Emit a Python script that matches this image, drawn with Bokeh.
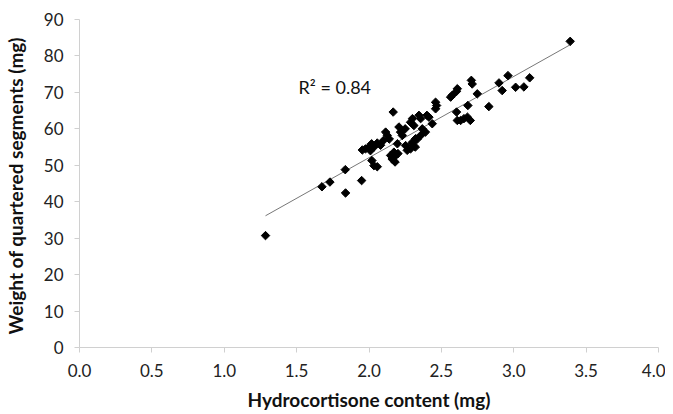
import numpy as np
from bokeh.plotting import figure
from bokeh.models import Range1d, SingleIntervalTicker, Label, PrintfTickFormatter
from bokeh.embed import file_html
from bokeh.resources import INLINE

hydrocortisone_mg = [
    1.285, 1.675, 1.730, 1.836, 1.838, 1.949, 1.954, 1.976, 1.999, 2.018,
    2.034, 2.057, 2.020, 2.034, 2.057, 2.010, 2.115, 2.126, 2.140, 2.100,
    2.149, 2.172, 2.160, 2.180, 2.167, 2.207, 2.218, 2.230, 2.253, 2.287,
    2.300, 2.310, 2.287, 2.300, 2.264, 2.345, 2.357, 2.322, 2.357, 2.390,
    2.400, 2.414, 2.437, 2.460, 2.467, 2.460, 2.320, 2.300, 2.196, 2.564,
    2.575, 2.610, 2.605, 2.605, 2.610, 2.633, 2.656, 2.680, 2.700, 2.683,
    2.707, 2.713, 2.748, 2.828, 2.898, 2.920, 2.960, 3.013, 3.070, 3.110,
    3.390, 2.368, 2.334, 2.180, 2.200, 2.080, 2.250,
]
segment_weight_mg = [
    30.7, 44.1, 45.4, 48.8, 42.4, 45.8, 54.2, 54.5, 55.0, 55.9,
    55.0, 56.1, 51.3, 49.9, 49.6, 54.0, 59.1, 58.2, 57.2, 56.8,
    52.7, 53.6, 51.7, 50.9, 64.6, 60.5, 59.1, 58.2, 55.4, 61.8,
    62.8, 60.9, 54.5, 56.3, 54.1, 63.7, 62.8, 57.3, 58.2, 59.1,
    63.7, 63.2, 61.4, 67.3, 66.4, 65.5, 55.0, 55.9, 55.9, 68.7,
    69.2, 71.0, 70.3, 64.6, 62.3, 62.3, 62.8, 63.2, 62.3, 66.4,
    73.3, 72.3, 69.6, 66.1, 72.6, 70.5, 74.6, 71.4, 71.5, 74.0,
    84.0, 60.0, 57.2, 52.5, 53.2, 55.5, 60.0,
]
r_squared_text = "R\u00b2 = 0.84"

x = np.array(hydrocortisone_mg)
y = np.array(segment_weight_mg)
slope, intercept = np.polyfit(x, y, 1)
fit_x = np.array([x.min(), x.max()])
fit_y = intercept + slope * fit_x

FONT = "Lato"

p = figure(frame_width=579, frame_height=328, output_backend="svg", toolbar_location=None,
           x_range=Range1d(0, 4), y_range=Range1d(0, 90),
           min_border_left=79, min_border_right=7, min_border_top=19, min_border_bottom=50)
p.outline_line_color = None
p.xgrid.visible = False
p.ygrid.visible = False

p.line(fit_x, fit_y, line_color="#777777", line_width=1)
p.scatter(x, y, marker="square", angle=np.pi / 4, size=6,
          fill_color="black", line_color="black")

p.add_layout(Label(x=1.513, y=71.4, text=r_squared_text, text_font=FONT,
                   text_font_size="18px", text_color="#111111",
                   text_baseline="middle", text_align="left"))

for ax in (p.xaxis[0], p.yaxis[0]):
    ax.axis_line_color = "#d0d0d0"
    ax.major_tick_line_color = "#d0d0d0"
    ax.minor_tick_line_color = None
    ax.major_tick_out = 5
    ax.major_tick_in = 0
    ax.major_label_text_font = FONT
    ax.major_label_text_font_size = "17px"
    ax.major_label_text_color = "#222222"
    ax.axis_label_text_font = FONT
    ax.axis_label_text_font_size = "19px"
    ax.axis_label_text_font_style = "bold"
    ax.axis_label_text_color = "#111111"

p.xaxis[0].ticker = SingleIntervalTicker(interval=0.5)
p.xaxis[0].formatter = PrintfTickFormatter(format="%.1f")
p.xaxis[0].major_label_standoff = 11
p.xaxis[0].axis_label = "Hydrocortisone content (mg)"
p.xaxis[0].axis_label_standoff = 8

p.yaxis[0].ticker = SingleIntervalTicker(interval=10)
p.yaxis[0].major_label_standoff = 11
p.yaxis[0].axis_label = "Weight of  quartered segments (mg)"
p.yaxis[0].axis_label_standoff = 14

open("out.html", "w").write(file_html(p, INLINE))
